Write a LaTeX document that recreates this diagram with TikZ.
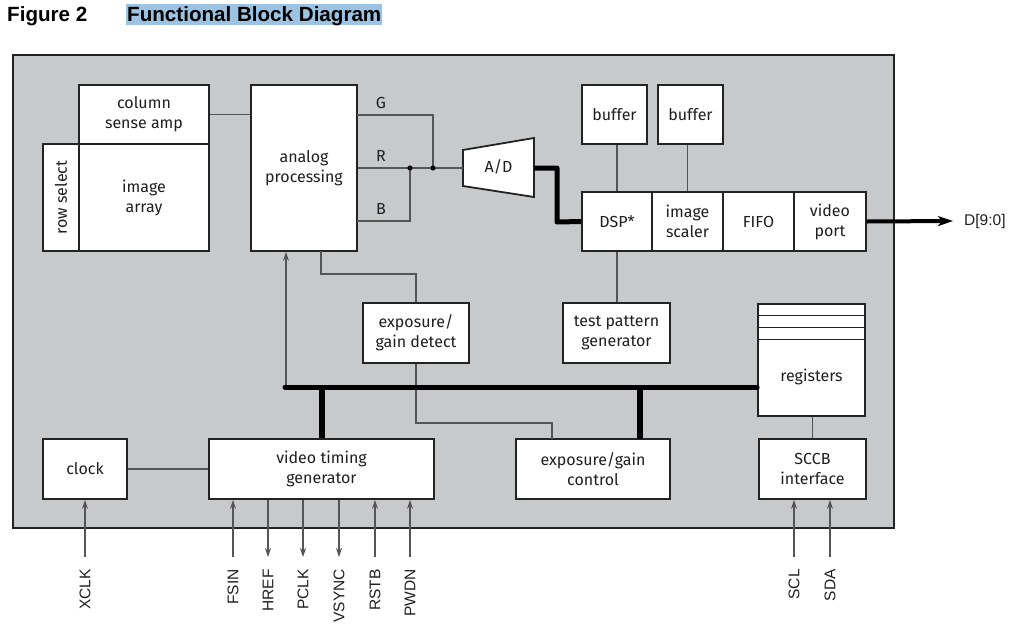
\documentclass[tikz,border=0pt]{standalone}
\usepackage{fontspec}
\setmainfont{Fira Sans}
\newfontfamily\pinfont{Liberation Sans}
\newfontfamily\titlefont{Liberation Sans}
\usetikzlibrary{arrows.meta}
\definecolor{bg}{RGB}{200,201,203}
\definecolor{edge}{RGB}{35,35,35}
\definecolor{wirec}{RGB}{85,85,85}
\definecolor{txt}{RGB}{30,30,35}
\definecolor{hl}{RGB}{157,195,226}
\begin{document}
\begin{tikzpicture}[x=1pt,y=-1pt,
 blk/.style={draw=edge,line width=1.8pt,fill=white,inner sep=0pt,align=center,text=txt,font=\fontsize{16}{20}\selectfont},
 wire/.style={draw=wirec,line width=1.2pt},
 busline/.style={draw=black,line width=5pt},
 tip/.style={-{Stealth[length=9pt,width=6pt,inset=3pt]}},
 lbl/.style={text=txt,font=\fontsize{16}{20}\selectfont,inner sep=0pt,align=center},
 pin/.style={text=txt,font=\pinfont\fontsize{15.5}{18}\selectfont,inner sep=0pt,rotate=90,anchor=east},
 ttlstyle/.style={anchor=base west,inner sep=0pt,font=\titlefont\bfseries\fontsize{20.6}{24}\selectfont},
]
\useasboundingbox (0,0) rectangle (1010,627);
% title
\fill[hl] (126,4) rectangle (382,25);
\node[ttlstyle] (fig) at (7,21.5) {Figure 2};
\node[ttlstyle] (ttl) at (127,21.5) {Functional Block Diagram};
% chip
\node[draw=edge,fill=bg,line width=2.2pt,minimum width=881pt,minimum height=473pt,inner sep=0pt] (chip) at (453.5,291.5) {};
% blocks
\node[blk,minimum width=130pt,minimum height=59pt] (colamp) at (144,114.5) {column\\sense amp};
\node[blk,minimum width=36pt,minimum height=107pt] (rowsel) at (61,197.5) {};
\node[lbl,rotate=90] (rowseltxt) at (61,197.5) {row select};
\node[blk,minimum width=130pt,minimum height=107pt] (imgarr) at (144,197.5) {image\\array};
\node[blk,minimum width=106pt,minimum height=166pt] (analog) at (304,168) {analog\\processing};
\node[blk,minimum width=65pt,minimum height=59pt] (buf1) at (614.5,114.5) {buffer};
\node[blk,minimum width=65pt,minimum height=59pt] (buf2) at (690.5,114.5) {buffer};
\node[blk,minimum width=70pt,minimum height=59pt] (dsp) at (617,221.5) {DSP*};
\node[blk,minimum width=71pt,minimum height=59pt] (scaler) at (687.5,221.5) {image\\scaler};
\node[blk,minimum width=71pt,minimum height=59pt] (fifo) at (758.5,221.5) {FIFO};
\node[blk,minimum width=72pt,minimum height=59pt] (vport) at (830,221.5) {video\\port};
\node[blk,minimum width=106pt,minimum height=60pt] (expdet) at (416,333) {exposure/\\gain detect};
\node[blk,minimum width=107pt,minimum height=60pt] (tpg) at (616.5,333) {test pattern\\generator};
\node[blk,minimum width=107pt,minimum height=112pt] (regs) at (811.5,360) {};
\draw[draw=edge,line width=1.8pt] (758,315.5) -- (865,315.5) (758,327.5) -- (865,327.5) (758,339.5) -- (865,339.5);
\node[lbl] (regstxt) at (811.5,377) {registers};
\node[blk,minimum width=84pt,minimum height=60pt] (clock) at (85,469) {clock};
\node[blk,minimum width=225pt,minimum height=60pt] (vtg) at (321.5,469) {video timing\\generator};
\node[blk,minimum width=154pt,minimum height=60pt] (expctl) at (593,469) {exposure/gain\\control};
\node[blk,minimum width=107pt,minimum height=60pt] (sccb) at (812.5,469) {SCCB\\interface};
% A/D converter
\coordinate (adL) at (463,168);
\coordinate (adR) at (534,168);
\draw[draw=edge,line width=1.8pt,fill=white] (463,150) -- (534,138) -- (534,197) -- (463,186) -- cycle;
\node[lbl] (ad) at (498.5,167) {A/D};
% analog wiring
\coordinate (jB) at (410,168);
\coordinate (jG) at (433,168);
\coordinate (gout) at (357,115);
\coordinate (bout) at (357,221);
\draw[wire] (colamp.east) -- (colamp.east -| analog.west);
\draw[wire] (gout) -| (jG);
\draw[wire] (analog.east) -- (adL);
\draw[wire] (bout) -| (jB);
\fill[black] (jB) circle (2.6);
\fill[black] (jG) circle (2.6);
\node[lbl] (lG) at (381,103) {G};
\node[lbl] (lR) at (381,156) {R};
\node[lbl] (lB) at (381,209) {B};
% A/D to DSP
\draw[busline,line join=round] (adR) -- (557,168) -- (557,222) -- (dsp.west);
% buffers, test pattern
\draw[wire] (buf1.south -| dsp.north) -- (dsp.north);
\draw[wire] (buf2.south -| scaler.north) -- (scaler.north);
\draw[wire] (dsp.south) -- (dsp.south |- tpg.north);
% output
\coordinate (dout) at (953,221);
\draw[black,line width=4pt,-{Stealth[length=15pt,width=10pt,inset=4pt]}] (vport.east) -- (dout);
\node[anchor=west,inner sep=0pt,text=txt,font=\pinfont\fontsize{15.5}{18}\selectfont] (dlbl) at (964,221) {D[9:0]};
% analog -> exposure detect -> exposure control
\coordinate (ab) at (321,251);
\coordinate (ecin) at (552,439);
\draw[wire] (ab) -- ++(0,23) -| (expdet.north);
\draw[wire] (expdet.south) -- ++(0,59) -| (ecin);
% bus
\coordinate (busL) at (285,387);
\coordinate (anin) at (286,387);
\coordinate (ecx) at (640,439);
\draw[wire,tip] (anin) -- (anin |- analog.south);
\draw[busline,line cap=round] (busL) -- (busL -| regs.west);
\draw[black,line width=6pt] (vtg.north) -- (vtg.north |- busL);
\draw[black,line width=6pt] (ecx) -- (ecx |- busL);
% misc wires
\draw[wire] (clock.east) -- (vtg.west);
\draw[wire] (regs.south -| sccb.north) -- (sccb.north);
% pins
\coordinate (pXCLK) at (85,557);
\coordinate (pFSIN) at (233,557);
\coordinate (pHREF) at (268,557);
\coordinate (pPCLK) at (303,557);
\coordinate (pVSYNC) at (339,557);
\coordinate (pRSTB) at (375,557);
\coordinate (pPWDN) at (410,557);
\coordinate (pSCL) at (794,557);
\coordinate (pSDA) at (830,557);
\draw[wire,tip] (pXCLK) -- (pXCLK |- clock.south);
\draw[wire,tip] (pFSIN) -- (pFSIN |- vtg.south);
\draw[wire,tip] (pHREF |- vtg.south) -- (pHREF);
\draw[wire,tip] (pPCLK |- vtg.south) -- (pPCLK);
\draw[wire,tip] (pVSYNC |- vtg.south) -- (pVSYNC);
\draw[wire,tip] (pRSTB) -- (pRSTB |- vtg.south);
\draw[wire,tip] (pPWDN) -- (pPWDN |- vtg.south);
\draw[wire,tip] (pSCL) -- (pSCL |- sccb.south);
\draw[wire,tip] (pSDA) -- (pSDA |- sccb.south);
\node[pin] (lXCLK) at (85,569) {XCLK};
\node[pin] (lFSIN) at (233,569) {FSIN};
\node[pin] (lHREF) at (268,569) {HREF};
\node[pin] (lPCLK) at (303,569) {PCLK};
\node[pin] (lVSYNC) at (339,569) {VSYNC};
\node[pin] (lRSTB) at (375,569) {RSTB};
\node[pin] (lPWDN) at (410,569) {PWDN};
\node[pin] (lSCL) at (794,569) {SCL};
\node[pin] (lSDA) at (830,569) {SDA};
\end{tikzpicture}
\end{document}
